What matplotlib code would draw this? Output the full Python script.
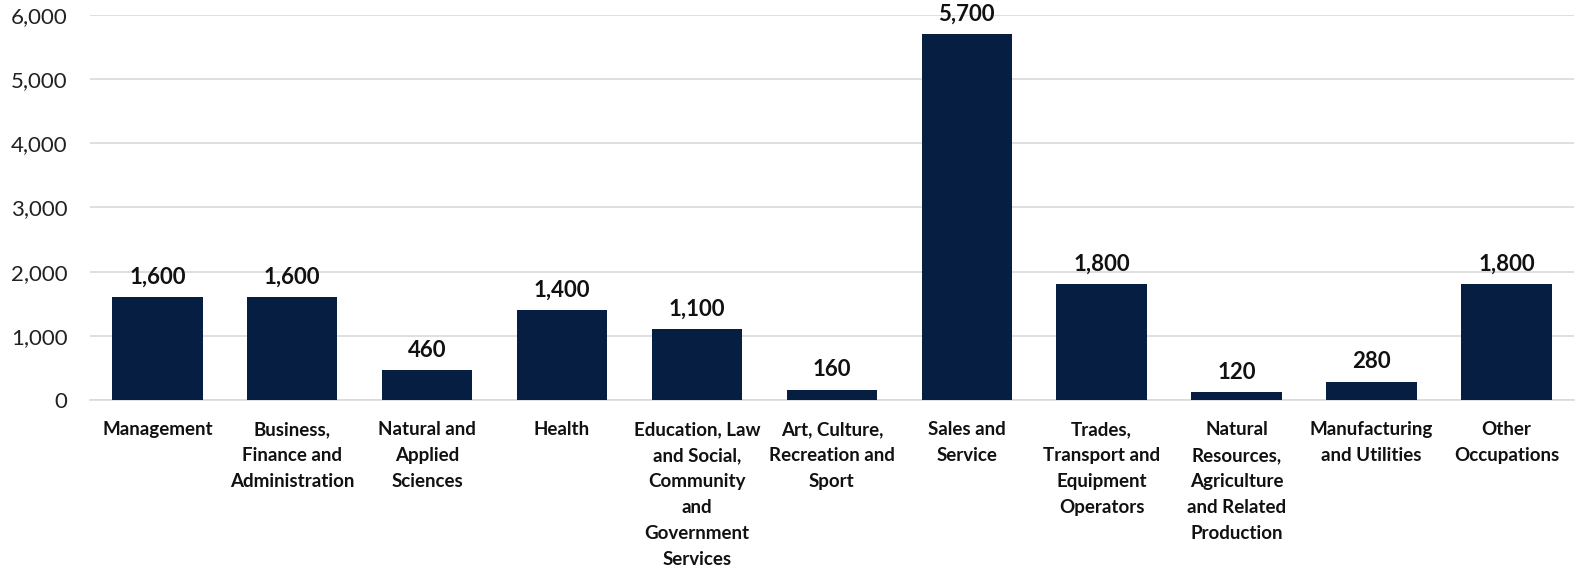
import numpy as np
import matplotlib.pyplot as plt

categories = ['Management', 'Business,\nFinance and\nAdministration', 'Natural and\nApplied\nSciences',
              'Health', 'Education, Law\nand Social,\nCommunity\nand\nGovernment\nServices',
              'Art, Culture,\nRecreation and\nSport', 'Sales and\nService',
              'Trades,\nTransport and\nEquipment\nOperators',
              'Natural\nResources,\nAgriculture\nand Related\nProduction',
              'Manufacturing\nand Utilities', 'Other\nOccupations']
values = [1600, 1600, 460, 1400, 1100, 160, 5700, 1800, 120, 280, 1800]
yticks = [0, 1000, 2000, 3000, 4000, 5000, 6000]

plt.rcParams['font.family'] = ['Lato', 'DejaVu Sans']

fig = plt.figure(figsize=(15.77, 5.73), dpi=100)
ax = fig.add_axes([0.057, 0.302, 0.941, 0.672])

x = np.arange(len(categories))
bars = ax.bar(x, values, width=0.67, color='#061e42', zorder=3)

for xi, v in zip(x, values):
    ax.text(xi, v + 150, f'{v:,}', ha='center', va='bottom', fontsize=16,
            fontweight='bold', color='#111111')

ax.set_xlim(-0.5, len(categories) - 0.5)
ax.set_ylim(0, 6000)
ax.set_yticks(yticks)
ax.set_yticklabels([f'{t:,}' for t in yticks], fontsize=16, color='#222222')
ax.set_xticks(x)
ax.set_xticklabels(categories, fontsize=13.5, fontweight='bold', color='#111111', linespacing=1.65)
ax.tick_params(axis='both', length=0)
ax.tick_params(axis='x', pad=15)
ax.tick_params(axis='y', pad=16)
ax.yaxis.grid(True, color='#d9d9d9', linewidth=1.2, zorder=0)
ax.set_axisbelow(True)
for s in ['top', 'right', 'left']:
    ax.spines[s].set_visible(False)
ax.spines['bottom'].set_color('#d9d9d9')
ax.spines['bottom'].set_linewidth(1.2)

fig.savefig('out.png', dpi=100)
